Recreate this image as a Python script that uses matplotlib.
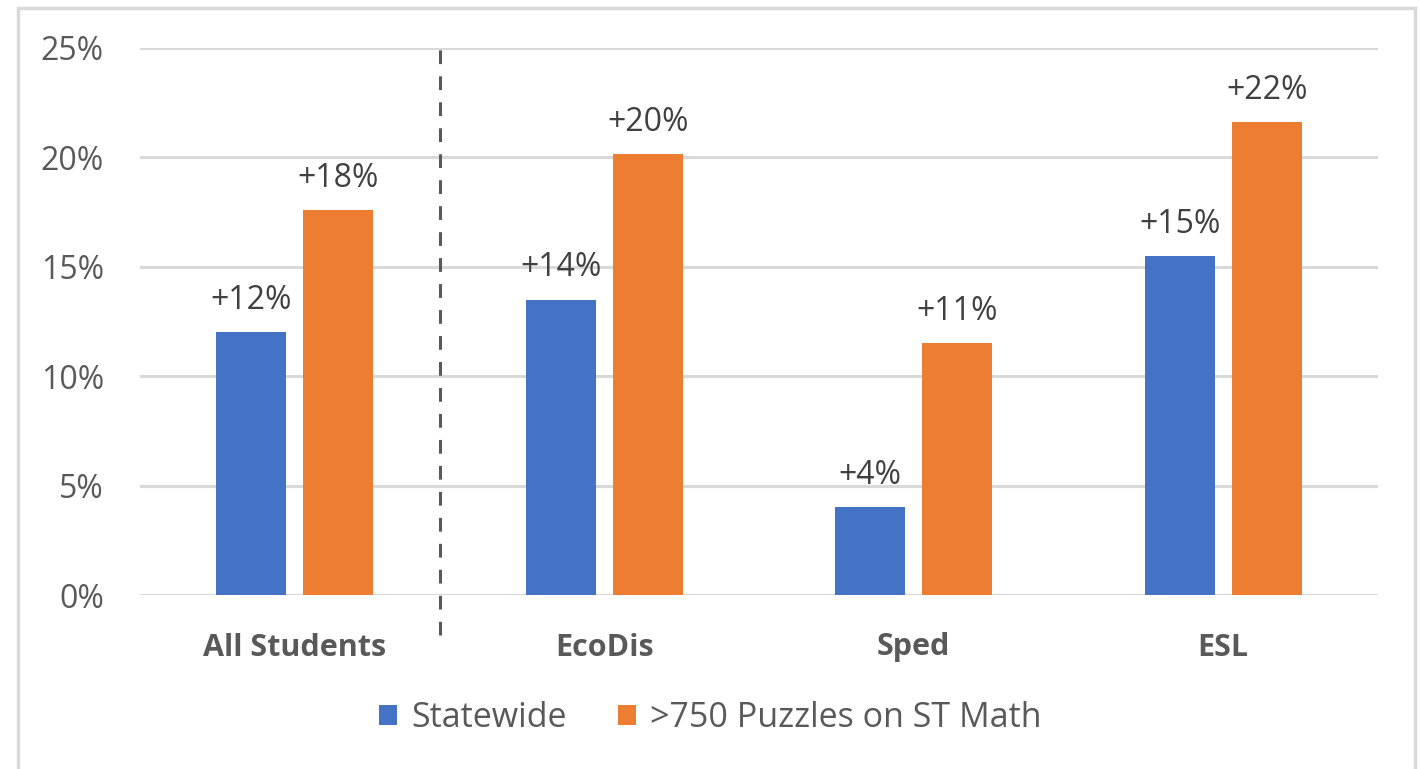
import numpy as np
import matplotlib.pyplot as plt
from matplotlib.patches import Rectangle

plt.rcParams['font.family'] = ['Open Sans', 'DejaVu Sans']

categories = ['All Students', 'EcoDis', 'Sped', 'ESL']
statewide = [12.0, 13.5, 4.0, 15.5]
st_math = [17.6, 20.15, 11.5, 21.6]
statewide_labels = ['+12%', '+14%', '+4%', '+15%']
st_math_labels = ['+18%', '+20%', '+11%', '+22%']
series_names = ['Statewide', '>750 Puzzles on ST Math']

blue = '#4472c4'
orange = '#ed7d31'
grey_txt = '#595959'

fig = plt.figure(figsize=(14.2, 7.69), dpi=100)
ax = fig.add_axes([140 / 1420, 1 - 595 / 769, 1238 / 1420, 547 / 769])

x = np.arange(len(categories))
w = 0.226
off = 0.1405
b1 = ax.bar(x - off, statewide, w, color=blue, label=series_names[0], zorder=3)
b2 = ax.bar(x + off, st_math, w, color=orange, label=series_names[1], zorder=3)

for bars, labs in ((b1, statewide_labels), (b2, st_math_labels)):
    for r, t in zip(bars, labs):
        ax.text(r.get_x() + r.get_width() / 2, r.get_height() + 0.7, t,
                ha='center', va='bottom', fontsize=23, color='#404040')

ax.set_xlim(-0.5, 3.5)
ax.set_ylim(0, 25)
ax.set_yticks(range(0, 26, 5))
ax.set_yticklabels([f'{v}%' for v in range(0, 26, 5)])
ax.yaxis.grid(True, color='#d9d9d9', lw=2.2, zorder=0)
ax.set_axisbelow(True)
for s in ax.spines.values():
    s.set_visible(False)
ax.tick_params(axis='y', length=0, pad=26, labelsize=23, labelcolor=grey_txt)
ax.set_xticks(x)
ax.set_xticklabels(categories, fontweight='bold')
ax.tick_params(axis='x', length=0, pad=27, labelsize=22, labelcolor=grey_txt)

# separator between All Students and the subgroups
ax.plot([0.47, 0.47], [-1.83, 25.27], color=grey_txt, lw=2.2,
        dashes=(4.5, 4), clip_on=False, zorder=4)

leg = fig.legend(handles=[b1, b2], loc='center', bbox_to_anchor=(0.5, 1 - 718 / 769),
                 ncol=2, frameon=False, fontsize=24.5, handlelength=0.55, handleheight=0.55,
                 handletextpad=0.4, columnspacing=1.5, labelcolor=grey_txt)

# outer chart border
fig.patches.append(Rectangle((18 / 1420, -0.02), 1397 / 1420, 1 - 8 / 769 + 0.02,
                             transform=fig.transFigure, fill=False,
                             edgecolor='#d9d9d9', lw=2.5))

fig.savefig('out.png', dpi=100)
